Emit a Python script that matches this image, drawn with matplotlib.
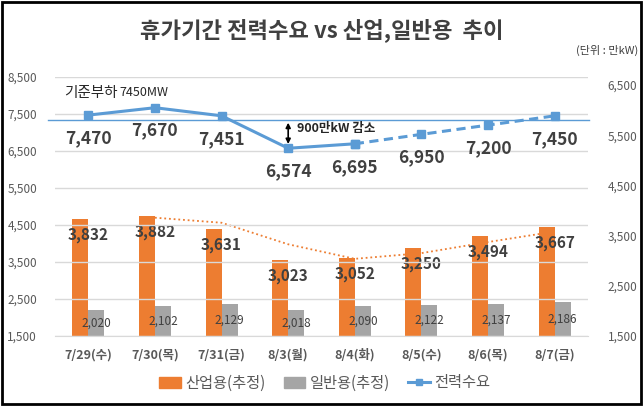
import numpy as np
import pandas as pd
import matplotlib

matplotlib.use("Agg")
import matplotlib.pyplot as plt
from matplotlib.patches import Patch, Rectangle
from matplotlib.lines import Line2D

plt.rcParams["font.family"] = ["Noto Sans CJK KR", "DejaVu Sans"]

# ── data ────────────────────────────────────────────────────────────────
dates = ["7/29(수)", "7/30(목)", "7/31(금)", "8/3(월)", "8/4(화)", "8/5(수)", "8/6(목)", "8/7(금)"]
demand = [7470, 7670, 7451, 6574, 6695, 6950, 7200, 7450]      # 전력수요 (left axis)
industrial = [3832, 3882, 3631, 3023, 3052, 3250, 3494, 3667]  # 산업용(추정) (right axis)
general = [2020, 2102, 2129, 2018, 2090, 2122, 2137, 2186]     # 일반용(추정) (right axis)
n_actual = 5          # first 5 demand points are actuals, the rest forecast (dashed)
baseline = 7340       # 기준부하 line as drawn

left_ticks = [1500, 2500, 3500, 4500, 5500, 6500, 7500, 8500]
right_ticks = [1500, 2500, 3500, 4500, 5500, 6500]

ORANGE = "#ED7D31"
GRAY = "#A5A5A5"
BLUE = "#5B9BD5"
DARK = "#404040"
TICK = "#595959"

W, H = 643, 407
fig = plt.figure(figsize=(W / 100, H / 100), dpi=100)
ax = fig.add_axes([55 / W, (H - 336) / H, (588 - 55) / W, (336 - 77) / H])
ax2 = ax.twinx()

x = np.arange(len(dates))
bw = 0.24

# bars on the right axis
ax2.bar(x - bw / 2, industrial, bw, color=ORANGE, zorder=2)
ax2.bar(x + bw / 2, general, bw, color=GRAY, zorder=2)

# 2-period moving average trendline of industrial use
trend = pd.Series(industrial).rolling(2).mean()
ax2.plot(x[1:], trend[1:], color=ORANGE, lw=1.3, ls=(0, (1, 1.6)), zorder=3)

for i, v in enumerate(industrial):
    ax2.annotate(f"{v:,}", (i, v), xytext=(0, -16), textcoords="offset pixels",
                 ha="center", va="center", fontsize=11, fontweight="bold", color=DARK, zorder=5)
for i, v in enumerate(general):
    ax2.text(i + bw / 2, (1500 + v) / 2, f"{v:,}", ha="center", va="center",
             fontsize=8.5, color=DARK, zorder=5)

ax2.set_ylim(1500, 6660)
ax2.set_yticks(right_ticks)
ax2.set_yticklabels([f"{t:,}" for t in right_ticks])

# demand line on the left axis
ax.set_zorder(ax2.get_zorder() + 1)
ax.patch.set_visible(False)
ax.plot(x[:n_actual], demand[:n_actual], color=BLUE, lw=2.2, marker="s", ms=6, zorder=4)
ax.plot(x[n_actual - 1:], demand[n_actual - 1:], color=BLUE, lw=2.2, ls=(0, (3, 1.8)),
        marker="s", ms=6, zorder=4)
for i, v in enumerate(demand):
    ax.annotate(f"{v:,}", (i, v), xytext=(0, -23), textcoords="offset pixels",
                ha="center", va="center", fontsize=12.5, fontweight="bold", color=DARK)

# 기준부하 line (runs slightly past the plot area)
ax.plot([-0.6, 7.52], [baseline, baseline], color=BLUE, lw=1, clip_on=False, zorder=3)
ax.annotate("기준부하", (0, 8070), xytext=(-24, 0), textcoords="offset pixels",
            fontsize=10.5, color="#262626", ha="left", va="center")
ax.annotate("7450MW", (0, 8070), xytext=(31, 0), textcoords="offset pixels",
            fontsize=9, color="#262626", ha="left", va="center")

# 900만kW 감소 arrow
ax.annotate("", xy=(3, baseline), xytext=(3, demand[3] + 40),
            arrowprops=dict(arrowstyle="<|-|>", color="black", lw=1.2, mutation_scale=7))
ax.text(3.13, 7110, "900만kW 감소", fontsize=9, fontweight="bold", color="#262626",
        ha="left", va="center")

ax.set_xlim(-0.5, len(dates) - 0.5)
ax.set_ylim(1500, 8500)
ax.set_yticks(left_ticks)
ax.set_yticklabels([f"{t:,}" for t in left_ticks])
ax.set_xticks(x)
ax.set_xticklabels(dates, fontsize=9, fontweight="bold", color=TICK)
ax.tick_params(axis="x", length=0, pad=9)
ax.tick_params(axis="y", length=0, pad=13, labelsize=8.5, labelcolor=TICK)
ax2.tick_params(axis="y", length=0, pad=14, labelsize=8.5, labelcolor=TICK)
ax.grid(axis="y", color="#D9D9D9", lw=1)
ax.set_axisbelow(True)
ax2.grid(False)
for a in (ax, ax2):
    for s in a.spines.values():
        s.set_visible(False)
ax.spines["bottom"].set_visible(True)
ax.spines["bottom"].set_color("#D9D9D9")

fig.text(0.5, 1 - 30 / H, "휴가기간 전력수요 vs 산업,일반용  추이", ha="center", va="center",
         fontsize=16, fontweight="bold", color=DARK)
fig.text(638 / W, 1 - 50 / H, "(단위 : 만kW)", ha="right", va="center", fontsize=8, color=DARK)

handles = [Patch(color=ORANGE), Patch(color=GRAY),
           Line2D([], [], color=BLUE, lw=2.2, marker="s", ms=5)]
fig.legend(handles, ["산업용(추정)", "일반용(추정)", "전력수요"], loc="center",
           bbox_to_anchor=(0.505, (H - 383) / H), ncol=3, frameon=False, fontsize=11,
           handlelength=1.4, handletextpad=0.3, columnspacing=1.2, labelcolor=TICK)

fig.patches.append(Rectangle((1.5 / W, 3 / H), (W - 4) / W, (H - 5) / H, transform=fig.transFigure,
                             fill=False, edgecolor="black", lw=2))

fig.savefig("out.png", dpi=100)
